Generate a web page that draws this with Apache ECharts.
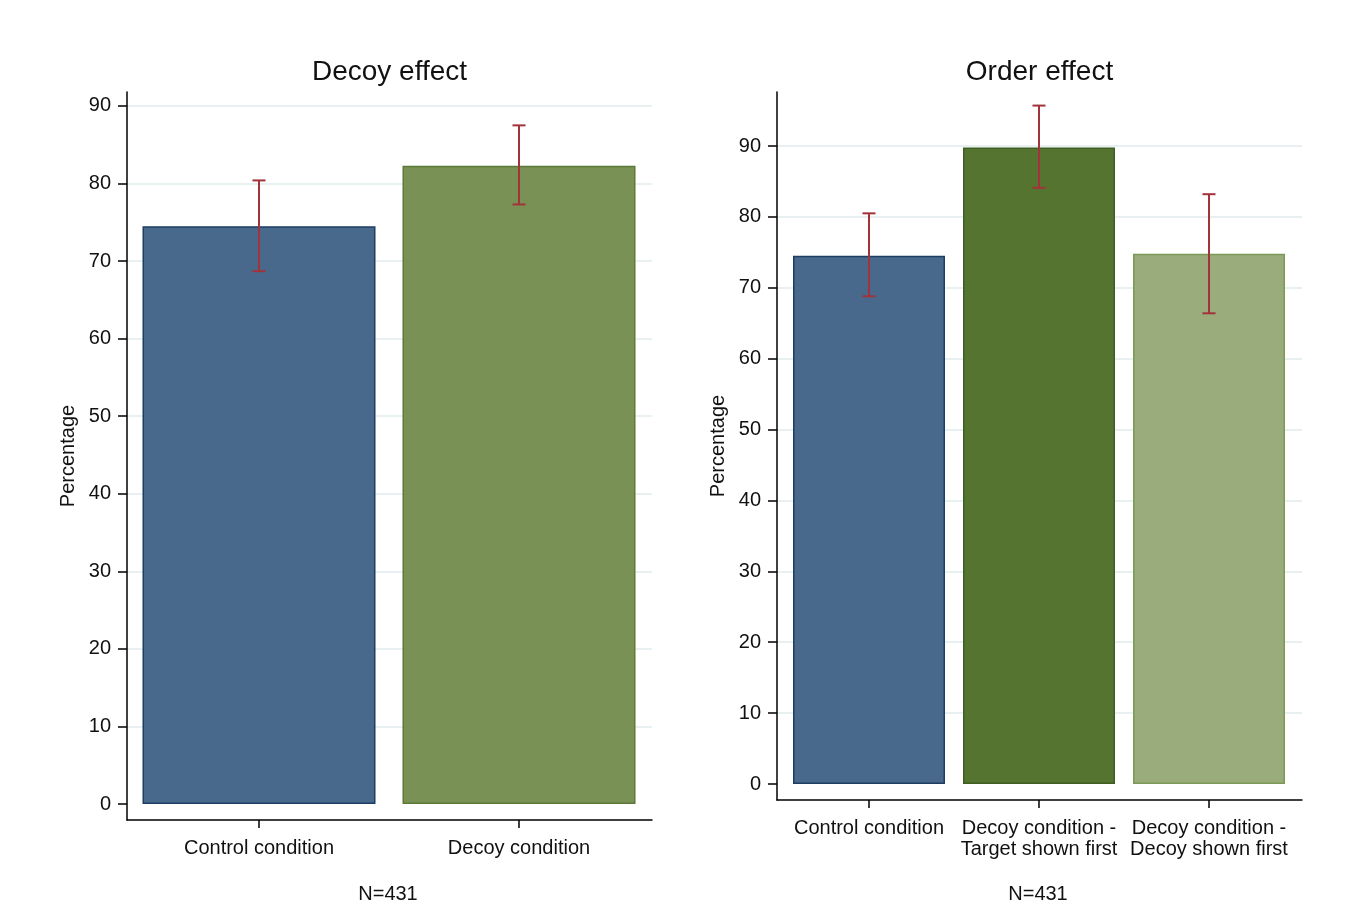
<!DOCTYPE html>
<html>
<head>
<meta charset="utf-8">
<script src="https://cdn.jsdelivr.net/npm/echarts@6/dist/echarts.min.js"></script>
<style>
html,body{margin:0;padding:0;background:#fff;}
#chart{width:1351px;height:918px;}
</style>
</head>
<body>
<div id="chart"></div>
<script>
// ---- Data ----
const leftTitle = 'Decoy effect';
const leftCategories = ['Control condition', 'Decoy condition'];
const leftValues = [74.5, 82.3];
const leftLow = [68.7, 77.3];
const leftHigh = [80.4, 87.5];
const leftColors = ['#48698b', '#7a9156'];
const leftBorders = ['#1e3d63', '#5a7a35'];

const rightTitle = 'Order effect';
const rightCategories = ['Control condition', 'Decoy condition -\nTarget shown first', 'Decoy condition -\nDecoy shown first'];
const rightValues = [74.5, 89.8, 74.8];
const rightLow = [68.8, 84.1, 66.4];
const rightHigh = [80.5, 95.7, 83.2];
const rightColors = ['#48698b', '#55742f', '#9aab7c'];
const rightBorders = ['#1e3d63', '#3f5e22', '#7a9a55'];

const yTicks = [0, 10, 20, 30, 40, 50, 60, 70, 80, 90];
const yName = 'Percentage';
const footnote = 'N=431';

const FONT = '"Liberation Sans", Arial, sans-serif';
const errColor = '#a3333b';
const gridColor = '#e1ebee';

const chart = echarts.init(document.getElementById('chart'));

function panel(idx, frame, data, yMin, yMax, barW) {
  const g0 = idx * 2, g1 = idx * 2 + 1;
  const grids = [
    {left: frame.left, width: frame.width, top: frame.top, height: frame.height},
    {left: data.left, width: data.width, top: frame.top, height: frame.height}
  ];
  const xAxes = [
    {gridIndex: g0, type: 'category', data: [''], axisLine: {onZero: false, lineStyle: {color: '#000', width: 1.5}},
     axisTick: {show: false}, axisLabel: {show: false}, splitLine: {show: false}, z: 10},
    {gridIndex: g1, type: 'category', data: data.categories, axisLine: {show: false, onZero: false},
     axisTick: {show: true, alignWithLabel: true, length: 8, lineStyle: {color: '#000', width: 1.5}},
     axisLabel: {color: '#111', fontSize: 20, fontFamily: FONT, margin: 18, lineHeight: 21, interval: 0},
     splitLine: {show: false}}
  ];
  const yAxes = [
    {gridIndex: g0, type: 'value', min: yMin, max: yMax,
     name: yName, nameLocation: 'middle', nameGap: 49, nameRotate: 90,
     nameTextStyle: {color: '#111', fontSize: 20, fontFamily: FONT},
     axisLine: {show: true, lineStyle: {color: '#000', width: 1.5}},
     axisTick: {show: true, length: 9, customValues: yTicks, lineStyle: {color: '#000', width: 1.5}},
     axisLabel: {color: '#111', fontSize: 20, fontFamily: FONT, margin: 16, customValues: yTicks},
     splitLine: {show: false}, z: 10},
    {gridIndex: g1, type: 'value', min: yMin, max: yMax, show: false, splitLine: {show: false}}
  ];
  const series = [
    {type: 'line', xAxisIndex: idx * 2, yAxisIndex: idx * 2, data: [], silent: true, symbol: 'none', z: 1,
     markLine: {silent: true, symbol: 'none', z: 1, label: {show: false},
       lineStyle: {color: gridColor, width: 1.5, type: 'solid'},
       data: yTicks.filter(v => v > 0).map(v => ({yAxis: v}))}},
    {type: 'bar', xAxisIndex: idx * 2 + 1, yAxisIndex: idx * 2 + 1, barWidth: barW,
     data: data.values.map((v, i) => ({value: v, itemStyle: {color: data.colors[i], borderColor: data.borders[i], borderWidth: 1.5}})),
     z: 3},
    {type: 'custom', xAxisIndex: idx * 2 + 1, yAxisIndex: idx * 2 + 1, z: 5,
     data: data.categories.map((c, i) => [i, data.low[i], data.high[i]]),
     renderItem: function (params, api) {
       const x = api.value(0);
       const lo = api.coord([x, api.value(1)]);
       const hi = api.coord([x, api.value(2)]);
       const cap = 6.5;
       const st = {stroke: errColor, lineWidth: 2};
       return {type: 'group', children: [
         {type: 'line', shape: {x1: lo[0], y1: lo[1], x2: hi[0], y2: hi[1]}, style: st},
         {type: 'line', shape: {x1: lo[0] - cap, y1: lo[1], x2: lo[0] + cap, y2: lo[1]}, style: st},
         {type: 'line', shape: {x1: hi[0] - cap, y1: hi[1], x2: hi[0] + cap, y2: hi[1]}, style: st}
       ]};
     }}
  ];
  return {grids, xAxes, yAxes, series};
}

const L = panel(0, {left: 127, width: 525, top: 92, height: 728}, {left: 129, width: 520,
  categories: leftCategories, values: leftValues, low: leftLow, high: leftHigh, colors: leftColors, borders: leftBorders},
  -16 / 7.756, 712 / 7.756, 233);
const R = panel(1, {left: 777, width: 525, top: 92, height: 708}, {left: 784, width: 510,
  categories: rightCategories, values: rightValues, low: rightLow, high: rightHigh, colors: rightColors, borders: rightBorders},
  -16 / 7.089, 692 / 7.089, 152);

const titleStyle = {fontSize: 28, fontWeight: 'normal', color: '#111', fontFamily: FONT};
const noteStyle = {fontSize: 20, fontWeight: 'normal', color: '#111', fontFamily: FONT};
const option = {
  backgroundColor: '#fff',
  animation: false,
  title: [
    {text: leftTitle, left: 384.5, textAlign: 'center', top: 53, textStyle: titleStyle},
    {text: rightTitle, left: 1034.5, textAlign: 'center', top: 53, textStyle: titleStyle},
    {text: footnote, left: 383, textAlign: 'center', top: 879, textStyle: noteStyle},
    {text: footnote, left: 1033, textAlign: 'center', top: 879, textStyle: noteStyle}
  ],
  grid: L.grids.concat(R.grids),
  xAxis: L.xAxes.concat(R.xAxes),
  yAxis: L.yAxes.concat(R.yAxes),
  series: L.series.concat(R.series)
};
chart.setOption(option);
</script>
</body>
</html>
